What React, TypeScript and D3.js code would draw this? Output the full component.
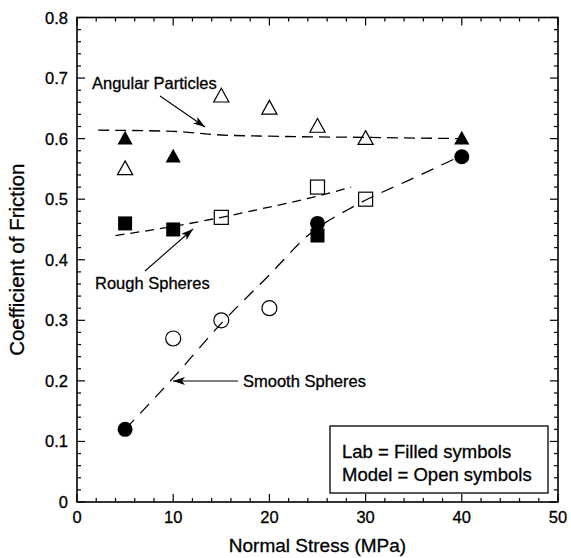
import React from "react";
import * as d3 from "d3";

const W = 571;
const H = 558;

// Data (x = normal stress MPa, y = coefficient of friction)
const angularLab: [number, number][] = [[5, 0.60], [10, 0.57], [40, 0.60]];
const angularModel: [number, number][] = [[5, 0.55], [15, 0.67], [20, 0.65], [25, 0.62], [30, 0.60]];
const roughLab: [number, number][] = [[5, 0.46], [10, 0.45], [25, 0.44]];
const roughModel: [number, number][] = [[15, 0.47], [25, 0.52], [30, 0.50]];
const smoothLab: [number, number][] = [[5, 0.12], [25, 0.46], [40, 0.57]];
const smoothModel: [number, number][] = [[10, 0.27], [15, 0.30], [20, 0.32]];

const angularTrend: [number, number][] = [[2.2, 0.614], [10, 0.612], [15, 0.606], [20, 0.604], [30, 0.602], [40, 0.600]];
const roughTrend: [number, number][] = [[4, 0.44], [10, 0.455], [15, 0.47], [20, 0.487], [25, 0.505], [28.5, 0.52]];
const smoothTrend: [number, number][] = [[5, 0.12], [10, 0.205], [15, 0.295], [20, 0.375], [24, 0.44], [29, 0.49], [35, 0.535], [40, 0.572]];

const xTicks = [0, 10, 20, 30, 40, 50];
const yTicks = [0, 0.1, 0.2, 0.3, 0.4, 0.5, 0.6, 0.7, 0.8];
const yTickLabels = ["0", "0.1", "0.2", "0.3", "0.4", "0.5", "0.6", "0.7", "0.8"];

const FONT = "Liberation Sans, Arial, Helvetica, sans-serif";

export default function App() {
  const x = d3.scaleLinear().domain([0, 50]).range([77, 558]);
  const y = d3.scaleLinear().domain([0, 0.8]).range([502, 17.5]);
  const line = d3.line<[number, number]>().x(d => x(d[0])).y(d => y(d[1])).curve(d3.curveMonotoneX);

  const xMinor = d3.range(0, 50.001, 2);
  const yMinor = d3.range(0, 0.8001, 0.02);
  const [x0, x1] = x.range();
  const [y0, y1] = y.range();

  const tri = (cx: number, cy: number, r = 8) =>
    `M${cx},${cy - r}L${cx + r * 0.95},${cy + r * 0.72}L${cx - r * 0.95},${cy + r * 0.72}Z`;

  const sq = 7;
  const txt = { fill: "#000", stroke: "#000", strokeWidth: 0.3 };

  return (
    <svg width={W} height={H} style={{ position: "absolute", left: 0, top: 0, background: "#fff" }} fontFamily={FONT}>
      <defs>
        <marker id="ah" viewBox="0 0 12 8" refX="12" refY="4" markerWidth="12" markerHeight="8" markerUnits="userSpaceOnUse" orient="auto">
          <path d="M0,0L12,4L0,8L3,4Z" fill="#000" />
        </marker>
      </defs>
      <rect x={0} y={0} width={W} height={H} fill="#fff" />

      {xMinor.map((v, i) => {
        const major = Math.abs(v % 10) < 1e-6;
        const len = major ? 8 : 4;
        return (
          <g key={"xm" + i}>
            <line x1={x(v)} x2={x(v)} y1={y0} y2={y0 - len} stroke="#000" strokeWidth={1.2} />
            <line x1={x(v)} x2={x(v)} y1={y1} y2={y1 + len} stroke="#000" strokeWidth={1.2} />
          </g>
        );
      })}
      {yMinor.map((v, i) => {
        const major = i % 5 === 0;
        const len = major ? 8 : 4;
        return (
          <g key={"ym" + i}>
            <line x1={x0} x2={x0 + len} y1={y(v)} y2={y(v)} stroke="#000" strokeWidth={1.2} />
            <line x1={x1} x2={x1 - len} y1={y(v)} y2={y(v)} stroke="#000" strokeWidth={1.2} />
          </g>
        );
      })}

      <rect x={x0} y={y1} width={x1 - x0} height={y0 - y1} fill="none" stroke="#000" strokeWidth={1.6} />

      {xTicks.map(v => (
        <text key={"xt" + v} x={x(v)} y={523} fontSize={16.5} textAnchor="middle" {...txt}>{v}</text>
      ))}
      {yTicks.map((v, i) => (
        <text key={"yt" + v} x={68} y={y(v) + 6} fontSize={16.5} textAnchor="end" {...txt}>{yTickLabels[i]}</text>
      ))}

      <text x={(x0 + x1) / 2} y={552} fontSize={19} textAnchor="middle" {...txt}>Normal Stress (MPa)</text>
      <text transform={`translate(24,${(y0 + y1) / 2}) rotate(-90)`} fontSize={20.5} textAnchor="middle" {...txt}>Coefficient of Friction</text>

      <path d={line(angularTrend) || ""} fill="none" stroke="#000" strokeWidth={1.3} strokeDasharray="11,6" />
      <path d={line(roughTrend) || ""} fill="none" stroke="#000" strokeWidth={1.3} strokeDasharray="9,6" />
      <path d={line(smoothTrend) || ""} fill="none" stroke="#000" strokeWidth={1.3} strokeDasharray="13,9" />

      {angularLab.map((d, i) => <path key={"al" + i} d={tri(x(d[0]), y(d[1]))} fill="#000" />)}
      {angularModel.map((d, i) => <path key={"am" + i} d={tri(x(d[0]), y(d[1]))} fill="none" stroke="#000" strokeWidth={1.2} />)}
      {roughLab.map((d, i) => <rect key={"rl" + i} x={x(d[0]) - sq} y={y(d[1]) - sq} width={sq * 2} height={sq * 2} fill="#000" />)}
      {roughModel.map((d, i) => <rect key={"rm" + i} x={x(d[0]) - sq} y={y(d[1]) - sq} width={sq * 2} height={sq * 2} fill="none" stroke="#000" strokeWidth={1.2} />)}
      {smoothLab.map((d, i) => <circle key={"sl" + i} cx={x(d[0])} cy={y(d[1])} r={7.5} fill="#000" />)}
      {smoothModel.map((d, i) => <circle key={"sm" + i} cx={x(d[0])} cy={y(d[1])} r={7.5} fill="none" stroke="#000" strokeWidth={1.2} />)}

      <text x={92} y={89} fontSize={16.5} {...txt}>Angular Particles</text>
      <line x1={160} y1={96} x2={205} y2={127} stroke="#000" strokeWidth={1.1} markerEnd="url(#ah)" />
      <text x={95} y={289} fontSize={16.5} {...txt}>Rough Spheres</text>
      <line x1={145} y1={271} x2={193} y2={229} stroke="#000" strokeWidth={1.1} markerEnd="url(#ah)" />
      <text x={243} y={387} fontSize={16.5} {...txt}>Smooth Spheres</text>
      <line x1={238} y1={381} x2={173} y2={381} stroke="#000" strokeWidth={1.1} markerEnd="url(#ah)" />

      <rect x={330} y={426} width={218} height={67} fill="#fff" stroke="#000" strokeWidth={1.3} />
      <text x={342} y={458} fontSize={18.5} {...txt}>Lab = Filled symbols</text>
      <text x={342} y={481} fontSize={18.5} {...txt}>Model = Open symbols</text>
    </svg>
  );
}
